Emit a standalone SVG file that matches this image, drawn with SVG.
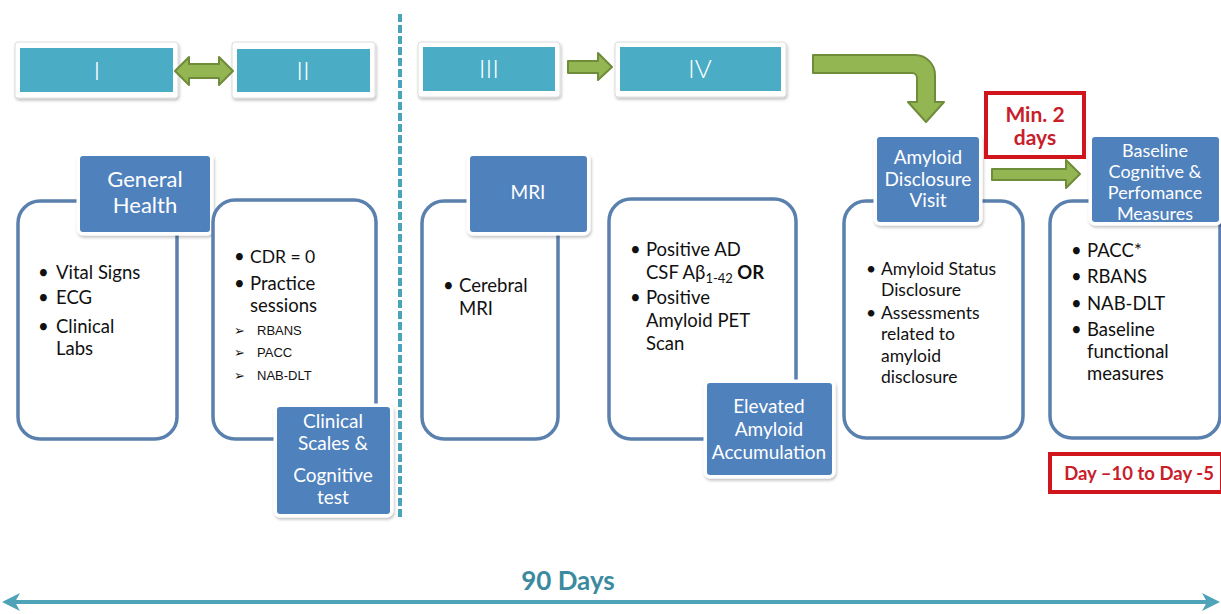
<svg xmlns="http://www.w3.org/2000/svg" width="1221" height="614" viewBox="0 0 1221 614">
<defs>
<filter id="sh" x="-10%" y="-10%" width="130%" height="140%">
<feDropShadow dx="1" dy="2" stdDeviation="1.5" flood-color="#000" flood-opacity="0.25"/>
</filter>
<style>
.frame{fill:#fff;stroke:#dcdcdc;stroke-width:1}
.tab{fill:#4bacc6}
.tabt{font-family:Lato,"Liberation Sans",sans-serif;font-size:26px;fill:#fff;text-anchor:middle;font-weight:300}
.box{fill:#fff;stroke:#5a80ad;stroke-width:3.5}
.lbl{fill:#4f81bd;stroke:#fff;stroke-width:7;paint-order:stroke}
.lt{font-family:Lato,"Liberation Sans",sans-serif;font-size:19px;fill:#fff;text-anchor:middle}
.bt{font-family:Lato,"Liberation Sans",sans-serif;font-size:18.5px;fill:#111}
.st{font-family:"Liberation Sans",Arial,sans-serif;font-size:13px;fill:#111}
.grn{fill:#93b552;stroke:#6f8c3a;stroke-width:2;stroke-linejoin:round}
.red{fill:#fff;stroke:#d0161c;stroke-width:4}
.rt{font-family:Lato,"Liberation Sans",sans-serif;font-size:18.5px;font-weight:bold;fill:#c8202a;text-anchor:middle}
</style>
</defs>
<rect width="1221" height="614" fill="#fff"/>

<g id="tab-I">
<rect class="frame" x="15" y="42" width="163" height="56" rx="3" filter="url(#sh)"/>
<rect class="tab" x="20" y="48" width="153" height="44"/>
<text class="tabt" x="97" y="80">I</text>
</g>
<g id="tab-II">
<rect class="frame" x="232" y="42" width="143" height="56" rx="3" filter="url(#sh)"/>
<rect class="tab" x="237" y="49" width="133" height="43"/>
<text class="tabt" x="303" y="80">II</text>
</g>
<g id="tab-III">
<rect class="frame" x="418" y="42" width="142" height="55" rx="3" filter="url(#sh)"/>
<rect class="tab" x="423" y="47" width="132" height="44"/>
<text class="tabt" x="489" y="78">III</text>
</g>
<g id="tab-IV">
<rect class="frame" x="615" y="42" width="171" height="55" rx="3" filter="url(#sh)"/>
<rect class="tab" x="620" y="47" width="161" height="44"/>
<text class="tabt" x="700" y="78">IV</text>
</g>

<g id="divider">
<line x1="400" y1="14" x2="400" y2="518" stroke="#4aa3ba" stroke-width="4" stroke-dasharray="8 3"/>
</g>

<g id="general-health">
<rect class="box" x="18" y="201" width="159" height="238" rx="22"/>
<rect class="lbl" x="80" y="156" width="130" height="76" rx="3" filter="url(#sh)"/>
<text class="lt" x="145" y="187" style="font-size:22px">General</text>
<text class="lt" x="145" y="213" style="font-size:22px">Health</text>
<text class="bt" x="38" y="279">•</text><text class="bt" x="56" y="279">Vital Signs</text>
<text class="bt" x="38" y="304">•</text><text class="bt" x="56" y="304">ECG</text>
<text class="bt" x="38" y="333">•</text><text class="bt" x="56" y="333">Clinical</text>
<text class="bt" x="56" y="355">Labs</text>
</g>

<g id="clinical-scales">
<rect class="box" x="213" y="200" width="163" height="239" rx="22"/>
<rect class="lbl" x="277" y="407" width="113" height="107" rx="3" filter="url(#sh)"/>
<text class="lt" x="333" y="428">Clinical</text>
<text class="lt" x="333" y="450">Scales &amp;</text>
<text class="lt" x="333" y="482">Cognitive</text>
<text class="lt" x="333" y="504">test</text>
<text class="bt" x="234" y="263">•</text><text class="bt" x="250" y="263" style="font-size:17.5px">CDR = 0</text>
<text class="bt" x="234" y="290">•</text><text class="bt" x="250" y="290">Practice</text>
<text class="bt" x="250" y="312">sessions</text>
<text class="st" x="234" y="335">➢</text><text class="st" x="257" y="335">RBANS</text>
<text class="st" x="234" y="357">➢</text><text class="st" x="257" y="357">PACC</text>
<text class="st" x="234" y="380">➢</text><text class="st" x="257" y="380">NAB-DLT</text>
</g>

<g id="mri">
<rect class="box" x="422" y="201" width="136" height="238" rx="22"/>
<rect class="lbl" x="470" y="156" width="117" height="76" rx="3" filter="url(#sh)"/>
<text class="lt" x="528" y="199">MRI</text>
<text class="bt" x="443" y="292">•</text><text class="bt" x="459" y="292">Cerebral</text>
<text class="bt" x="459" y="315">MRI</text>
</g>

<g id="elevated-amyloid">
<rect class="box" x="609" y="199" width="187" height="240" rx="22"/>
<rect class="lbl" x="707" y="383" width="125" height="92" rx="3" filter="url(#sh)"/>
<text class="lt" x="769" y="413">Elevated</text>
<text class="lt" x="769" y="436">Amyloid</text>
<text class="lt" x="769" y="459">Accumulation</text>
<text class="bt" x="630" y="256">•</text><text class="bt" x="646" y="256">Positive AD</text>
<text class="bt" x="646" y="279">CSF Aβ<tspan style="font-size:13px" dy="4">1-42</tspan><tspan dy="-4" font-weight="bold"> OR</tspan></text>
<text class="bt" x="630" y="304">•</text><text class="bt" x="646" y="304">Positive</text>
<text class="bt" x="646" y="327">Amyloid PET</text>
<text class="bt" x="646" y="350">Scan</text>
</g>

<g id="amyloid-disclosure">
<rect class="box" x="844" y="201" width="179" height="237" rx="22"/>
<rect class="lbl" x="877" y="137" width="102" height="85" rx="3" filter="url(#sh)"/>
<text class="lt" x="928" y="164">Amyloid</text>
<text class="lt" x="928" y="186">Disclosure</text>
<text class="lt" x="928" y="207">Visit</text>
<text class="bt" x="866" y="275" style="font-size:17.5px">•</text><text class="bt" x="881" y="275" style="font-size:17.5px">Amyloid Status</text>
<text class="bt" x="881" y="296" style="font-size:17.5px">Disclosure</text>
<text class="bt" x="866" y="319" style="font-size:17.5px">•</text><text class="bt" x="881" y="319" style="font-size:17.5px">Assessments</text>
<text class="bt" x="881" y="340" style="font-size:17.5px">related to</text>
<text class="bt" x="881" y="362" style="font-size:17.5px">amyloid</text>
<text class="bt" x="881" y="383" style="font-size:17.5px">disclosure</text>
</g>

<g id="baseline-measures">
<rect class="box" x="1050" y="201" width="170" height="237" rx="22"/>
<rect class="lbl" x="1092" y="137" width="127" height="85" rx="3" filter="url(#sh)"/>
<text class="lt" x="1155" y="157" style="font-size:18px">Baseline</text>
<text class="lt" x="1155" y="178" style="font-size:18px">Cognitive &amp;</text>
<text class="lt" x="1155" y="199" style="font-size:18px">Perfomance</text>
<text class="lt" x="1155" y="220" style="font-size:18px">Measures</text>
<text class="bt" x="1071" y="257">•</text><text class="bt" x="1087" y="257">PACC*</text>
<text class="bt" x="1071" y="283">•</text><text class="bt" x="1087" y="283">RBANS</text>
<text class="bt" x="1071" y="310">•</text><text class="bt" x="1087" y="310">NAB-DLT</text>
<text class="bt" x="1071" y="336">•</text><text class="bt" x="1087" y="336">Baseline</text>
<text class="bt" x="1087" y="358">functional</text>
<text class="bt" x="1087" y="380">measures</text>
</g>

<g id="min-2-days">
<rect class="red" x="986" y="93" width="98" height="64"/>
<text class="rt" x="1035" y="122" style="font-size:21px">Min. 2</text>
<text class="rt" x="1035" y="145" style="font-size:21px">days</text>
</g>

<g id="day-range">
<rect class="red" x="1050" y="454" width="172" height="38"/>
<text class="rt" x="1139" y="480">Day –10 to Day -5</text>
</g>

<g id="connectors">
<path class="grn" d="M175,71 L189,57 V64 H219 V57 L233,71 L219,85 V78 H189 V85 Z"/>
<path class="grn" d="M568,61 H598 V53 L612,67 L598,80 V73 H568 Z"/>
<path class="grn" d="M813,55 H915 A20,20 0 0 1 935,75 V102 H944 L926,122 L908,102 H917 V78 A5,5 0 0 0 912,73 H813 Z"/>
<path class="grn" d="M992,169 H1066 V160 L1080,174 L1066,188 V180 H992 Z"/>
<g id="timeline">
<line x1="10" y1="602" x2="1211" y2="602" stroke="#4fa3b8" stroke-width="4"/>
<path d="M2,602 L20,593 L15,602 L20,611 Z" fill="#4fa3b8"/>
<path d="M1220,602 L1202,593 L1207,602 L1202,611 Z" fill="#4fa3b8"/>
</g>
</g>
<text x="568" y="590" font-family="Lato,'Liberation Sans',sans-serif" font-size="26" font-weight="bold" fill="#3b8aa0" text-anchor="middle">90 Days</text>
</svg>
